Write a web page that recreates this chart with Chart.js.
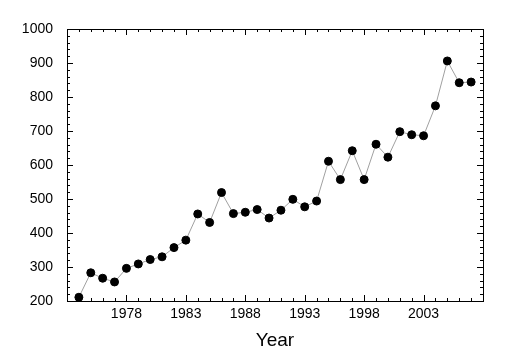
<!DOCTYPE html>
<html lang="en">
<head>
    <meta charset="UTF-8">
    <title>Year series</title>
    <script src="https://cdnjs.cloudflare.com/ajax/libs/Chart.js/4.4.1/chart.umd.min.js"></script>
    <style>
        body {
            margin: 0;
            background: white;
        }

        .chart-container {
            width: 508px;
            height: 362px;
        }
    </style>
</head>
<body>
    <div class="chart-container">
        <canvas id="yearChart"></canvas>
    </div>

    <script>
        // Data
        const years = [1974, 1975, 1976, 1977, 1978, 1979, 1980, 1981, 1982, 1983,
            1984, 1985, 1986, 1987, 1988, 1989, 1990, 1991, 1992, 1993,
            1994, 1995, 1996, 1997, 1998, 1999, 2000, 2001, 2002, 2003,
            2004, 2005, 2006, 2007];
        const values = [211, 283, 267, 256, 296, 309, 322, 330, 357, 379,
            456, 431, 519, 457, 461, 469, 444, 467, 499, 477,
            494, 611, 557, 642, 557, 661, 623, 698, 689, 686,
            774, 906, 842, 844];
        const xLabels = [1978, 1983, 1988, 1993, 1998, 2003];

        // inward tick marks on all four sides
        const boxTicks = {
            id: 'boxTicks',
            afterDraw(chart) {
                const { ctx, chartArea: a, scales: { x, y } } = chart;
                ctx.save();
                ctx.strokeStyle = '#000';
                ctx.lineWidth = 1;
                ctx.beginPath();
                for (let yr = 1973; yr <= 2008; yr++) {
                    const px = Math.round(x.getPixelForValue(yr)) + 0.5;
                    const len = xLabels.includes(yr) ? 6 : 3;
                    ctx.moveTo(px, a.bottom); ctx.lineTo(px, a.bottom - len);
                    ctx.moveTo(px, a.top); ctx.lineTo(px, a.top + len);
                }
                for (let v = 200; v <= 1000; v += 20) {
                    const py = Math.round(y.getPixelForValue(v)) + 0.5;
                    const len = v % 100 === 0 ? 6 : 3;
                    ctx.moveTo(a.left, py); ctx.lineTo(a.left + len, py);
                    ctx.moveTo(a.right, py); ctx.lineTo(a.right - len, py);
                }
                ctx.stroke();
                ctx.strokeRect(a.left + 0.5, a.top + 0.5, a.right - a.left, a.bottom - a.top);
                ctx.restore();
            }
        };

        const font = { family: '"Liberation Sans", Arial, sans-serif', size: 14 };

        new Chart(document.getElementById('yearChart'), {
            type: 'line',
            data: {
                datasets: [{
                    data: years.map((yr, i) => ({ x: yr, y: values[i] })),
                    borderColor: '#a0a0a0',
                    borderWidth: 1,
                    pointRadius: 4,
                    pointBackgroundColor: '#000',
                    pointBorderColor: '#000',
                    tension: 0
                }]
            },
            options: {
                responsive: true,
                maintainAspectRatio: false,
                animation: false,
                layout: { padding: { top: 29, right: 25, left: 0, bottom: 0 } },
                plugins: {
                    legend: { display: false },
                    tooltip: { enabled: false }
                },
                scales: {
                    x: {
                        type: 'linear',
                        min: 1973,
                        max: 2008,
                        grid: { display: false, drawTicks: false },
                        border: { display: false },
                        afterBuildTicks: axis => {
                            axis.ticks = xLabels.map(v => ({ value: v }));
                        },
                        afterFit: axis => { axis.height = 61; },
                        ticks: {
                            autoSkip: false,
                            maxRotation: 0,
                            padding: 5,
                            color: '#000',
                            font: font,
                            callback: v => String(v)
                        },
                        title: {
                            display: true,
                            text: 'Year',
                            color: '#000',
                            font: { family: font.family, size: 19 },
                            padding: { top: 0, bottom: 10 }
                        }
                    },
                    y: {
                        min: 200,
                        max: 1000,
                        grid: { display: false, drawTicks: false },
                        border: { display: false },
                        afterFit: axis => { axis.width = 67; },
                        ticks: {
                            stepSize: 100,
                            padding: 14,
                            color: '#000',
                            font: font,
                            callback: v => String(v)
                        }
                    }
                }
            },
            plugins: [boxTicks]
        });
    </script>
</body>
</html>
